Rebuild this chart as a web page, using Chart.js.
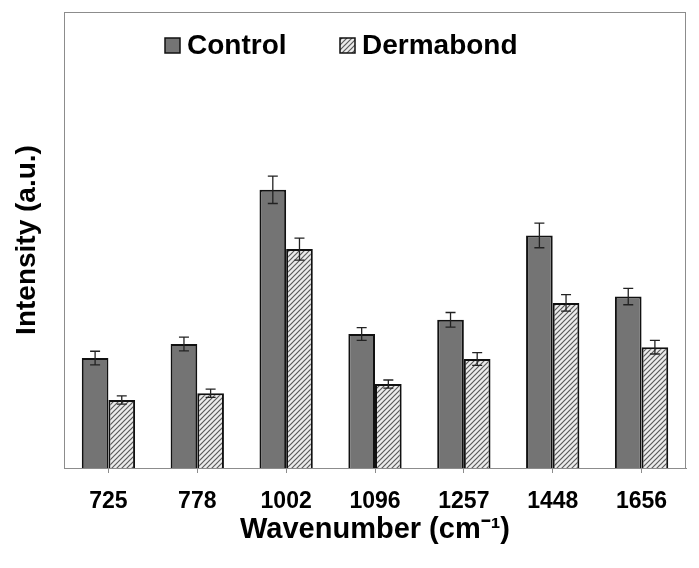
<!DOCTYPE html>
<html>
<head>
<meta charset="utf-8">
<script src="https://cdn.jsdelivr.net/npm/chart.js@4.4.1/dist/chart.umd.min.js"></script>
<style>
  html, body { margin: 0; padding: 0; background: #fff; }
  #wrap { width: 699px; height: 568px; position: relative; }
</style>
</head>
<body>
<div id="wrap"><canvas id="chart"></canvas></div>
<script>
const wavenumbers = ['725', '778', '1002', '1096', '1257', '1448', '1656'];
const controlValues = [24.1, 27.2, 61.0, 29.4, 32.5, 51.0, 37.6];
const controlErrors = [1.5, 1.5, 3.0, 1.4, 1.6, 2.7, 1.8];
const dermabondValues = [14.9, 16.4, 48.0, 18.4, 23.9, 36.2, 26.5];
const dermabondErrors = [0.9, 0.9, 2.4, 0.9, 1.4, 1.8, 1.5];

const FONT = "'Liberation Sans', Arial, sans-serif";

// diagonal hatch for the Dermabond bars
function makeHatch() {
  const c = document.createElement('canvas');
  c.width = 5; c.height = 5;
  const g = c.getContext('2d');
  g.fillStyle = '#ececec';
  g.fillRect(0, 0, 5, 5);
  g.strokeStyle = '#5a5a5a';
  g.lineWidth = 1.2;
  g.beginPath();
  g.moveTo(0, 5); g.lineTo(5, 0);
  g.moveTo(-1, 1); g.lineTo(1, -1);
  g.moveTo(4, 6); g.lineTo(6, 4);
  g.stroke();
  return g.createPattern(c, 'repeat');
}
const hatch = makeHatch();

const errorBars = {
  id: 'errorBars',
  afterDatasetsDraw(chart) {
    const ctx = chart.ctx;
    const y = chart.scales.y;
    const errs = [controlErrors, dermabondErrors];
    ctx.save();
    ctx.strokeStyle = '#222';
    ctx.lineWidth = 1.3;
    chart.data.datasets.forEach((ds, di) => {
      chart.getDatasetMeta(di).data.forEach((bar, i) => {
        const v = ds.data[i];
        const top = y.getPixelForValue(v + errs[di][i]);
        const bot = y.getPixelForValue(v - errs[di][i]);
        ctx.beginPath();
        ctx.moveTo(bar.x, top); ctx.lineTo(bar.x, bot);
        ctx.moveTo(bar.x - 5, top); ctx.lineTo(bar.x + 5, top);
        ctx.moveTo(bar.x - 5, bot); ctx.lineTo(bar.x + 5, bot);
        ctx.stroke();
      });
    });
    ctx.restore();
  }
};

// plot frame and the in-plot legend
const frameAndLegend = {
  id: 'frameAndLegend',
  afterDraw(chart) {
    const ctx = chart.ctx;
    const a = chart.chartArea;
    ctx.save();
    ctx.strokeStyle = '#8c8c8c';
    ctx.lineWidth = 1;
    ctx.strokeRect(a.left + 0.5, a.top + 0.5, a.right - a.left - 1, a.bottom - a.top);

    const items = [
      { x: 165, label: chart.data.datasets[0].label, fill: chart.data.datasets[0].backgroundColor },
      { x: 340, label: chart.data.datasets[1].label, fill: chart.data.datasets[1].backgroundColor }
    ];
    ctx.font = 'bold 28px ' + FONT;
    ctx.textBaseline = 'middle';
    ctx.textAlign = 'left';
    items.forEach(it => {
      ctx.fillStyle = it.fill;
      ctx.fillRect(it.x, 38, 15, 15);
      ctx.strokeStyle = '#111';
      ctx.lineWidth = 1.5;
      ctx.strokeRect(it.x, 38, 15, 15);
      ctx.fillStyle = '#000';
      ctx.fillText(it.label, it.x + 22, 46);
    });
    ctx.restore();
  }
};

new Chart(document.getElementById('chart'), {
  type: 'bar',
  data: {
    labels: wavenumbers,
    datasets: [
      {
        label: 'Control',
        data: controlValues,
        backgroundColor: '#747474',
        borderColor: '#111',
        borderWidth: 2,
        categoryPercentage: 0.6,
        barPercentage: 1.0
      },
      {
        label: 'Dermabond',
        data: dermabondValues,
        backgroundColor: hatch,
        borderColor: '#111',
        borderWidth: 2,
        categoryPercentage: 0.6,
        barPercentage: 1.0
      }
    ]
  },
  options: {
    responsive: true,
    maintainAspectRatio: false,
    animation: false,
    layout: { padding: { top: 12, right: 13, left: 0, bottom: 0 } },
    scales: {
      x: {
        afterFit: s => { s.height = 100; },
        grid: { display: true, drawOnChartArea: false, offset: false, tickLength: 5, color: '#8c8c8c' },
        border: { display: true, color: '#8c8c8c' },
        ticks: { color: '#000', padding: 15, font: { family: FONT, size: 23, weight: 'bold' } },
        title: {
          display: true,
          text: 'Wavenumber (cm\u207B\u00B9)',
          color: '#000',
          font: { family: FONT, size: 29, weight: 'bold' },
          padding: { top: 0, bottom: 21 }
        }
      },
      y: {
        min: 0,
        max: 100,
        afterFit: s => { s.width = 64; },
        grid: { display: false },
        border: { display: true, color: '#8c8c8c' },
        ticks: { display: false },
        title: {
          display: true,
          text: 'Intensity (a.u.)',
          color: '#000',
          font: { family: FONT, size: 28, weight: 'bold' },
          padding: { top: 10, bottom: 0 }
        }
      }
    },
    plugins: {
      legend: { display: false },
      tooltip: { enabled: false }
    }
  },
  plugins: [errorBars, frameAndLegend]
});
</script>
</body>
</html>
